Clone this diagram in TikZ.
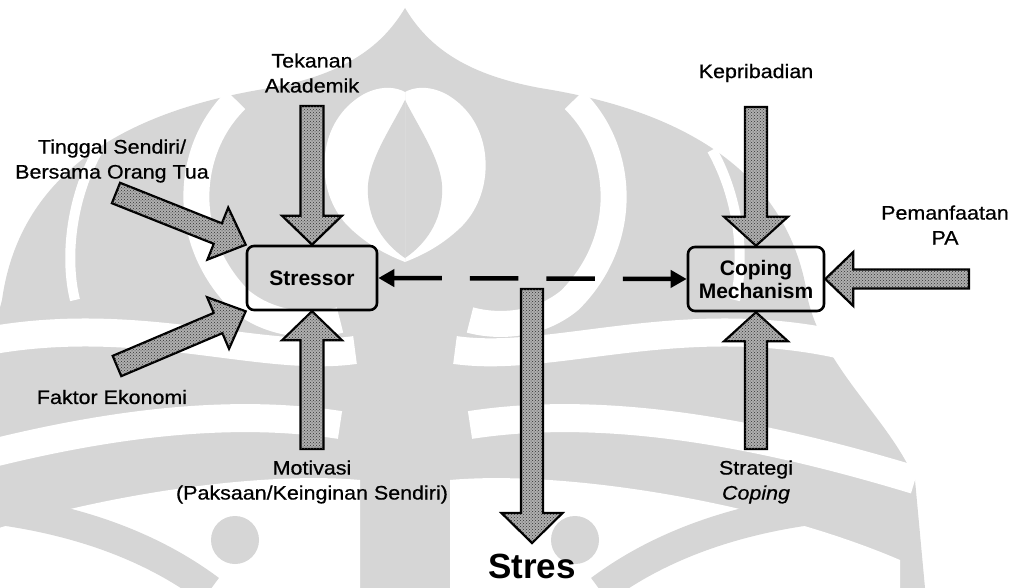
\documentclass[tikz,border=0pt]{standalone}
\usepackage{fontspec}
\setmainfont{Liberation Sans}[FakeStretch=1.1,FakeBold=0.6]
\newfontfamily\boldsans{Liberation Sans}
\usetikzlibrary{calc,arrows.meta,patterns}
\definecolor{wm}{RGB}{214,214,214}
\definecolor{arrfill}{RGB}{175,175,175}
\tikzset{
  lbl/.style={align=center, font=\fontsize{19.5}{25}\selectfont, inner sep=0pt},
  boxnode/.style={draw, line width=2.6pt, rounded corners=7pt, font=\boldsans\bfseries\fontsize{21}{23}\selectfont, align=center, inner sep=0pt},
  fatarr/.style={draw=black, line width=2.2pt, fill=arrfill, line join=miter, postaction={pattern=crosshatch dots, pattern color=black!80}},
  dashconn/.style={line width=4.5pt, dash pattern=on 48.5pt off 28pt, {Triangle[length=16pt,width=17pt]}-{Triangle[length=16pt,width=17pt]}},
}
% #1 tail, #2 tip, #3 shaft half width, #4 head half width, #5 head length
\newcommand\fatarrow[5]{%
  \coordinate (hb) at ($(#2)!#5!(#1)$);
  \draw[fatarr] ($(#1)!#3!90:(#2)$) -- ($(hb)!#3!90:(#2)$) -- ($(hb)!#4!90:(#2)$) -- (#2)
    -- ($(hb)!#4!-90:(#2)$) -- ($(hb)!#3!-90:(#2)$) -- ($(#1)!#3!-90:(#2)$) -- cycle;
}
\newcommand\wmhalf{%
  \fill[wm] (405,8) .. controls (430,50) and (470,75) .. (540,88) .. controls (680,110) and (790,170) .. (808,300) .. controls (825,370) and (890,420) .. (915,480) -- (925,588) -- (405,588) -- cycle;
  \fill[white] (405,92) .. controls (420,84) and (440,88) .. (455,100) .. controls (495,130) and (495,195) .. (460,228) .. controls (440,247) and (420,256) .. (405,262) -- cycle;
  \fill[wm] (405,100) .. controls (420,130) and (445,165) .. (442,195) .. controls (440,228) and (420,248) .. (405,258) -- cycle;
  \draw[white, line width=26pt] (574,100) .. controls (625,150) and (630,240) .. (570,300) .. controls (540,325) and (500,328) .. (470,320);
  \draw[white, line width=10pt] (712,150) .. controls (740,200) and (745,260) .. (735,300);
  \draw[white, line width=28pt] (455,350) .. controls (560,365) and (700,300) .. (880,355);
  \draw[white, line width=28pt] (470,425) .. controls (600,405) and (750,430) .. (915,480);
  \fill[white] (450,480) .. controls (560,470) and (760,500) .. (900,560) -- (900,588) -- (450,588) -- cycle;
  \fill[wm] (575,540) circle (24);
  \draw[wm, line width=30pt] (600,590) .. controls (680,530) and (780,510) .. (860,505);
}
\begin{document}
\begin{tikzpicture}[x=1pt,y=-1pt]
\useasboundingbox (0,0) rectangle (1017,588);
\begin{scope}
  \clip (0,0) rectangle (1017,588);
  \wmhalf
  \begin{scope}[xshift=810pt, xscale=-1]
    \wmhalf
  \end{scope}
\end{scope}

% boxes
\node[boxnode, minimum width=130pt, minimum height=64pt] (str) at (312,278) {Stressor};
\node[boxnode, minimum width=136pt, minimum height=64pt] (cop) at (756,279) {Coping\\Mechanism};

% labels
\node[lbl] (tek) at (312,73) {Tekanan\\Akademik};
\node[lbl] (kep) at (756,73) {Kepribadian};
\node[lbl] (tin) at (112,161) {Tinggal Sendiri/\\Bersama Orang Tua};
\node[lbl] (fak) at (112,397) {Faktor Ekonomi};
\node[lbl] (mot) at (312,482) {Motivasi\\(Paksaan/Keinginan Sendiri)};
\node[lbl] (stg) at (756,482) {Strategi\\\textit{Coping}};
\node[lbl] (pem) at (945,225) {Pemanfaatan\\PA};
\node[inner sep=0pt, font=\boldsans\bfseries\fontsize{35}{40}\selectfont] (stres) at (532,566) {Stres};

% tails
\coordinate (tekT) at (312,106);
\coordinate (motT) at (312,449);
\coordinate (kepT) at (756,107);
\coordinate (stgT) at (756,449);
\coordinate (pemT) at (969,279);
\coordinate (stresT) at (532,289);
\coordinate (stresP) at (532,543);
\coordinate (tinT) at (116,193);
\coordinate (fakT) at (117,366);

% fat arrows
\fatarrow{tekT}{str.north}{11.5pt}{30pt}{29pt}
\fatarrow{motT}{str.south}{11.5pt}{30pt}{29pt}
\fatarrow{kepT}{cop.north}{11pt}{32pt}{29pt}
\fatarrow{stgT}{cop.south}{11pt}{32pt}{29pt}
\fatarrow{pemT}{cop.east}{9.5pt}{27pt}{28pt}
\fatarrow{stresT}{stresP}{11pt}{30.5pt}{30pt}
\fatarrow{tinT}{str.north west}{11pt}{28pt}{30pt}
\fatarrow{fakT}{str.south west}{11pt}{28pt}{30pt}

% dashed connector
\draw[dashconn] (str.east) -- (cop.west);
\end{tikzpicture}
\end{document}
